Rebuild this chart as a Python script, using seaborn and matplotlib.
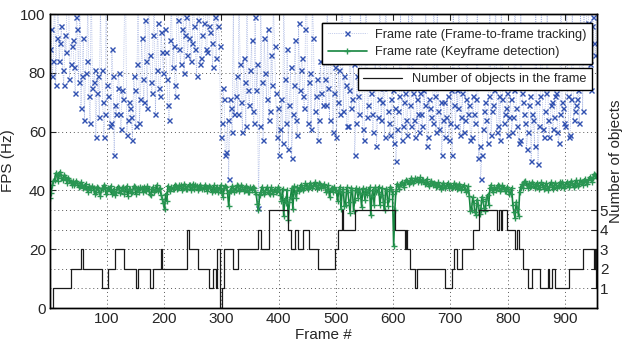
import matplotlib
matplotlib.use("Agg")
import numpy as np
import matplotlib.pyplot as plt
import seaborn as sns

# ------------------------------------------------------------
# data
# two interleaved samplings per series: frames 1,5,9,... and 3,7,11,...
# ------------------------------------------------------------
frames_a = np.arange(1, 957, 4)
frames_b = np.arange(3, 957, 4)

# frame-to-frame tracking FPS (values > 100 leave the plot)
track_a = [
    88, 79, 112, 92, 84, 96, 76, 87, 121, 83,
    91, 73, 95, 108, 79, 64, 84, 72, 117, 77,
    58, 79, 104, 70, 66, 76, 62, 88, 52, 66,
    80, 61, 71, 109, 64, 68, 57, 74, 83, 63,
    92, 70, 84, 113, 77, 93, 66, 97, 72, 87,
    95, 78, 64, 105, 89, 72, 98, 83, 118, 93,
    86, 101, 90, 96, 79, 110, 85, 97, 88, 124,
    94, 82, 99, 107, 89, 63, 71, 53, 44, 68,
    102, 72, 66, 83, 60, 77, 115, 69, 91, 63,
    74, 34, 103, 57, 80, 95, 67, 76, 89, 58,
    52, 71, 108, 63, 54, 82, 66, 91, 59, 74,
    85, 68, 112, 77, 61, 92, 72, 57, 84, 69,
    78, 106, 64, 88, 73, 58, 81, 95, 67, 76,
    62, 101, 71, 52, 79, 66, 86, 57, 119, 69,
    73, 60, 84, 65, 108, 70, 58, 77, 63, 71,
    56, 50, 67, 104, 62, 73, 59, 69, 115, 64,
    71, 60, 66, 74, 110, 58, 68, 63, 72, 102,
    61, 52, 70, 65, 57, 74, 106, 62, 68, 59,
    73, 64, 113, 69, 58, 66, 71, 51, 44, 61,
    70, 56, 104, 67, 74, 60, 72, 109, 63, 68,
    59, 71, 65, 117, 62, 57, 73, 66, 54, 69,
    50, 64, 107, 49, 72, 61, 67, 103, 58, 70,
    65, 73, 56, 114, 68, 62, 72, 59, 108, 67,
    71, 63, 92, 105, 88, 97, 74, 99, 86,
]
track_b = [
    95, 84, 76, 103, 90, 81, 93, 110, 78, 89,
    82, 99, 77, 68, 92, 80, 105, 63, 75, 81,
    73, 65, 81, 58, 107, 72, 63, 79, 69, 75,
    66, 74, 102, 59, 70, 65, 79, 62, 111, 71,
    78, 98, 68, 86, 73, 104, 81, 75, 94, 80,
    87, 69, 91, 82, 76, 114, 88, 95, 80, 99,
    92, 84, 106, 88, 98, 83, 93, 119, 87, 96,
    90, 103, 85, 96, 58, 75, 52, 64, 71, 60,
    66, 79, 108, 70, 85, 62, 74, 81, 67, 99,
    83, 62, 77, 92, 71, 64, 86, 105, 73, 68,
    61, 56, 78, 88, 69, 51, 76, 64, 97, 81,
    72, 95, 63, 80, 106, 67, 78, 64, 73, 88,
    69, 75, 92, 60, 82, 70, 66, 110, 79, 62,
    74, 68, 83, 63, 72, 104, 61, 76, 65, 80,
    66, 78, 55, 71, 64, 75, 116, 67, 59, 74,
    68, 61, 72, 57, 70, 64, 106, 62, 73, 58,
    66, 73, 62, 69, 55, 71, 65, 113, 60, 67,
    70, 64, 58, 72, 63, 52, 69, 74, 108, 65,
    60, 71, 66, 57, 72, 63, 105, 55, 52, 67,
    64, 72, 59, 69, 111, 62, 57, 71, 66, 73,
    65, 60, 74, 68, 56, 103, 70, 63, 60, 72,
    66, 55, 70, 62, 109, 58, 73, 64, 69, 61,
    72, 60, 66, 70, 63, 107, 58, 71, 64, 69,
    74, 101, 67, 94, 112, 83, 96, 90, 104,
]

# keyframe detection FPS
key_a = [
    37.5, 41.8, 43.6, 44.9, 45.6, 44.2, 45.1, 43.8, 44.3, 42.9,
    43.1, 42.4, 42.6, 41.5, 42.0, 41.2, 40.6, 41.4, 40.3, 40.8,
    39.6, 40.9, 38.2, 40.4, 41.1, 39.8, 40.2, 38.9, 40.6, 39.5,
    40.8, 39.9, 41.2, 40.1, 38.0, 40.5, 39.6, 41.0, 40.2, 39.4,
    40.7, 41.3, 39.9, 40.4, 38.6, 41.1, 40.3, 39.7, 40.9, 37.2,
    33.8, 36.5, 40.4, 41.2, 40.6, 41.5, 40.8, 41.7, 40.9, 41.4,
    40.6, 41.8, 41.1, 40.5, 41.6, 40.9, 41.3, 40.4, 41.0, 40.7,
    41.2, 40.3, 39.8, 41.0, 40.6, 39.2, 40.8, 41.3, 34.6, 39.7,
    40.9, 40.2, 41.4, 40.6, 41.1, 40.3, 40.8, 39.6, 40.2, 40.9,
    38.7, 33.2, 39.4, 40.1, 39.6, 40.3, 38.8, 39.9, 40.5, 39.8,
    40.4, 36.3, 31.2, 35.6, 29.8, 37.9, 33.6, 39.2, 41.0, 40.6,
    41.3, 40.9, 41.6, 41.2, 42.0, 41.4, 41.8, 41.1, 42.2, 41.5,
    41.0, 40.2, 37.6, 40.8, 41.3, 40.1, 39.7, 33.8, 40.6, 35.2,
    39.5, 32.4, 40.1, 36.7, 39.8, 40.4, 34.5, 39.2, 40.6, 39.9,
    31.5, 40.3, 41.2, 39.6, 35.1, 40.8, 33.4, 39.9, 37.2, 40.6,
    21.0, 39.8, 41.6, 42.2, 41.9, 42.8, 43.1, 42.7, 43.6, 43.2,
    44.0, 43.4, 42.8, 43.5, 42.6, 42.1, 42.5, 41.8, 42.3, 41.6,
    42.0, 41.3, 41.9, 41.5, 40.8, 41.6, 41.2, 41.7, 40.9, 41.4,
    41.0, 40.6, 40.2, 38.1, 33.5, 35.8, 31.6, 34.9, 33.2, 36.4,
    33.0, 38.6, 40.8, 40.2, 41.3, 40.7, 41.5, 40.6, 40.9, 39.8,
    40.4, 38.7, 35.2, 30.6, 33.8, 39.6, 42.1, 42.8, 41.9, 42.4,
    41.6, 42.2, 41.4, 41.9, 41.2, 41.7, 40.9, 41.5, 41.1, 41.8,
    41.3, 42.0, 41.5, 41.2, 42.1, 41.6, 42.3, 41.8, 42.5, 42.0,
    42.6, 42.2, 42.9, 43.1, 42.7, 43.5, 43.8, 44.2, 45.4,
]
key_b = [
    39.2, 43.1, 45.9, 43.2, 46.4, 43.5, 44.6, 42.5, 43.7, 41.9,
    42.0, 43.3, 41.0, 42.8, 40.7, 42.3, 39.5, 40.9, 41.6, 38.8,
    41.2, 39.3, 40.7, 41.8, 38.7, 40.9, 41.5, 39.7, 38.4, 41.3,
    39.2, 40.9, 38.9, 41.5, 40.4, 39.1, 41.4, 38.7, 40.8, 41.2,
    39.4, 40.2, 41.5, 38.9, 40.6, 39.5, 41.8, 40.6, 38.5, 35.6,
    38.9, 41.6, 39.7, 40.5, 42.0, 40.4, 41.9, 40.2, 42.1, 40.5,
    41.9, 40.2, 42.3, 41.7, 40.3, 42.0, 40.6, 41.8, 39.9, 41.6,
    39.6, 41.7, 40.9, 39.5, 41.8, 37.8, 41.6, 39.2, 40.1, 41.5,
    39.6, 41.7, 39.9, 41.8, 39.7, 41.5, 39.4, 41.1, 41.3, 39.6,
    35.4, 38.6, 41.2, 38.8, 41.1, 39.1, 41.0, 38.7, 39.4, 41.1,
    38.5, 40.6, 37.2, 40.3, 36.1, 40.8, 41.4, 37.5, 39.8, 42.0,
    40.2, 42.4, 40.5, 42.6, 40.8, 42.7, 40.6, 42.4, 40.9, 42.1,
    39.6, 41.7, 40.4, 39.3, 40.1, 36.3, 41.2, 39.5, 34.6, 41.0,
    36.0, 40.9, 33.1, 40.8, 37.4, 39.0, 40.7, 36.8, 38.5, 41.1,
    38.2, 34.9, 39.4, 41.3, 38.6, 36.2, 40.5, 34.8, 41.2, 38.9,
    33.5, 42.3, 40.6, 43.0, 41.1, 43.6, 42.2, 44.1, 42.5, 44.2,
    42.9, 44.4, 43.7, 42.2, 43.9, 41.4, 43.3, 42.6, 41.1, 42.7,
    40.6, 42.5, 40.9, 42.6, 42.0, 40.7, 42.6, 40.5, 42.2, 40.3,
    41.9, 39.5, 41.4, 33.0, 37.6, 32.6, 36.9, 32.0, 37.8, 34.1,
    37.2, 35.1, 41.9, 39.4, 40.1, 41.9, 39.7, 41.8, 39.8, 41.2,
    38.9, 40.9, 32.5, 36.1, 31.4, 41.3, 40.9, 43.3, 40.9, 41.1,
    42.9, 40.7, 42.6, 40.5, 42.8, 40.6, 42.5, 40.3, 42.7, 40.6,
    42.6, 40.8, 42.8, 43.0, 40.7, 42.9, 41.2, 43.3, 41.0, 43.4,
    41.5, 43.6, 41.8, 44.0, 42.1, 44.6, 42.9, 45.6, 44.8,
]

# number of objects: frame where the count changes, and the new count
obj_frames = [1, 7, 37, 55, 59, 91, 103, 114, 130, 152, 154, 175, 180, 195, 197,
              240, 243, 260, 279, 286, 290, 293, 297, 301, 304, 320, 329, 365,
              370, 384, 417, 421, 428, 434, 443, 453, 469, 498, 504, 510, 513,
              533, 603, 620, 622, 624, 630, 638, 641, 690, 702, 707, 712, 720,
              739, 750, 782, 785, 788, 791, 798, 812, 817, 820, 826, 836, 843,
              857, 871, 873, 878, 882, 907, 931, 950, 952, 954, 956]
obj_counts = [0, 1, 2, 3, 2, 1, 2, 3, 2, 1, 2, 1, 2, 3, 2,
              4, 3, 2, 1, 2, 1, 3, 0, 1, 3, 2, 3, 4,
              3, 5, 4, 3, 4, 3, 4, 3, 2, 3, 4, 5, 4,
              5, 4, 3, 4, 3, 2, 1, 2, 1, 2, 3, 2, 3,
              4, 5, 4, 5, 4, 5, 4, 3, 4, 3, 2, 1, 2,
              1, 2, 1, 2, 1, 2, 3, 2, 3, 1, 1]

LABEL_TRACK = "Frame rate (Frame-to-frame tracking)"
LABEL_KEY = "Frame rate (Keyframe detection)"
LABEL_OBJ = "Number of objects in the frame"

BLUE = "#3050b0"
BLUE_LINE = "#8ea0da"
GREEN = "#15853f"

# merge the two samplings into one series per curve
frames = np.column_stack([frames_a, frames_b]).ravel()
fps_tracking = np.column_stack([track_a, track_b]).ravel()
fps_keyframe = np.column_stack([key_a, key_b]).ravel()

# ------------------------------------------------------------
# plot
# ------------------------------------------------------------
sns.set_theme(style="white")
plt.rcParams["font.family"] = ["Liberation Sans", "DejaVu Sans"]

fig = plt.figure(figsize=(6.27, 3.41), dpi=100)
ax = fig.add_axes([50 / 627, 33 / 341, 547 / 627, 294 / 341])
ax2 = ax.twinx()

sns.lineplot(x=frames, y=fps_tracking, ax=ax, color=BLUE_LINE, linestyle=":",
             linewidth=0.5, marker="x", markersize=3.6, markeredgecolor=BLUE,
             markeredgewidth=1.0, errorbar=None, sort=False)
sns.lineplot(x=frames, y=fps_keyframe, ax=ax, color=GREEN, linewidth=1.2,
             marker="+", markersize=4.5, markeredgecolor="#2a9653",
             markeredgewidth=1.0, errorbar=None, sort=False)
sns.lineplot(x=obj_frames, y=obj_counts, ax=ax2, color="#1a1a1a",
             linewidth=0.9, drawstyle="steps-post", errorbar=None, sort=False)

ax.set_xlim(1, 956)
ax.set_ylim(0, 100)
ax2.set_ylim(0, 15)
ax.set_xticks(range(100, 901, 100))
ax.set_yticks(range(0, 101, 20))
ax2.set_yticks(range(1, 6))

grid_kw = dict(color="0.35", linestyle=(0, (1, 3)), linewidth=0.7)
ax.grid(True, **grid_kw)
ax2.yaxis.grid(True, **grid_kw)
ax2.xaxis.grid(False)

for a in (ax, ax2):
    for sp in a.spines.values():
        sp.set_color("black")
        sp.set_linewidth(1.0)
ax.tick_params(axis="both", direction="in", length=4, width=0.8,
               labelsize=11, top=True, right=False, pad=3)
ax2.tick_params(axis="y", direction="in", length=4, width=0.8,
                labelsize=11, pad=2)

ax.set_xlabel("Frame #", fontsize=11, labelpad=1)
ax.set_ylabel("FPS (Hz)", fontsize=11, labelpad=4)
ax2.set_ylabel("Number of objects", fontsize=11, labelpad=0.5)

# two separate legend boxes, like the original
h = ax.get_lines()
leg1 = ax.legend([h[0], h[1]], [LABEL_TRACK, LABEL_KEY], loc="upper right",
                 bbox_to_anchor=(0.991, 0.969), borderaxespad=0,
                 fontsize=9.2, handlelength=3.1, fancybox=False,
                 framealpha=1, edgecolor="black", borderpad=0.45,
                 labelspacing=0.4, handletextpad=0.6)
leg1.get_frame().set_linewidth(1.0)
ax.add_artist(leg1)

leg2 = ax2.legend([ax2.get_lines()[0]], [LABEL_OBJ], loc="upper right",
                  bbox_to_anchor=(0.991, 0.816), borderaxespad=0,
                  fontsize=9.2, handlelength=3.1, fancybox=False,
                  framealpha=1, edgecolor="black", borderpad=0.4,
                  handletextpad=0.8)
leg2.get_frame().set_linewidth(1.0)

fig.savefig("out.png", dpi=100)
